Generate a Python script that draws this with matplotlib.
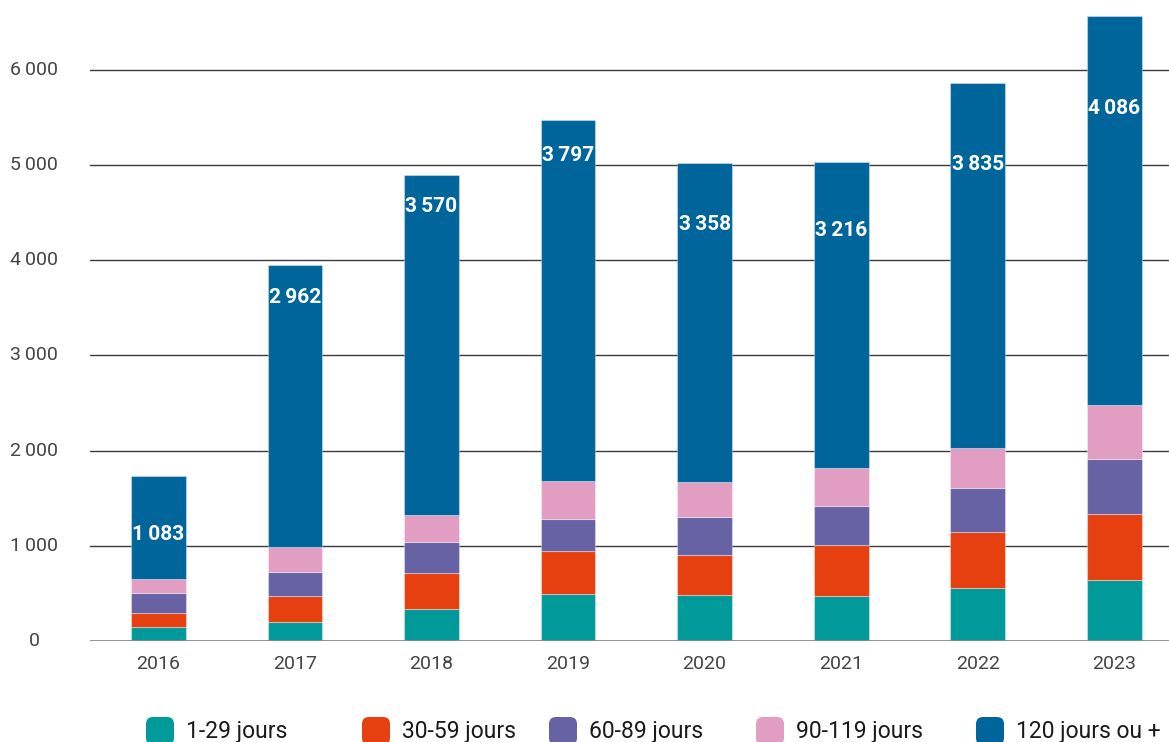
import matplotlib
matplotlib.use("Agg")
import matplotlib.pyplot as plt
from matplotlib.patches import FancyBboxPatch
import numpy as np

plt.rcParams['font.family'] = ['Roboto', 'DejaVu Sans']

years = ["2016", "2017", "2018", "2019", "2020", "2021", "2022", "2023"]
series_names = ["1-29 jours", "30-59 jours", "60-89 jours", "90-119 jours", "120 jours ou +"]
d_1_29 = [144, 204, 336, 499, 486, 476, 559, 646]
d_30_59 = [147, 266, 382, 442, 421, 530, 588, 690]
d_60_89 = [213, 255, 325, 345, 396, 409, 458, 578]
d_90_119 = [147, 266, 281, 392, 365, 400, 428, 564]
d_120_plus = [1083, 2962, 3570, 3797, 3358, 3216, 3835, 4086]
# vertical placement of the value labels inside the top segment
label_y = [1122, 3610, 4566, 5105, 4380, 4314, 5007, 5596]
y_ticks = [0, 1000, 2000, 3000, 4000, 5000, 6000]

colors = ["#009a9a", "#e64011", "#6762a4", "#e29ec2", "#00659b"]
series = [d_1_29, d_30_59, d_60_89, d_90_119, d_120_plus]

W, H = 1169, 742
fig = plt.figure(figsize=(W / 100, H / 100), dpi=100)
ax = fig.add_axes([90 / W, (H - 641) / H, 1 - 90 / W, 641 / H])

x = np.arange(len(years))
bottom = np.zeros(len(years))
for vals, col in zip(series, colors):
    ax.bar(x, vals, width=0.4, bottom=bottom, color=col,
           edgecolor=(1, 1, 1, 0.35), linewidth=0.8, zorder=3)
    bottom += np.array(vals)

def fmt(v):
    return f"{v:,}".replace(",", "\u2009")

for xi, v, ly in zip(x, d_120_plus, label_y):
    ax.text(xi, ly, fmt(v), ha="center", va="center", color="white",
            fontsize=15, fontweight="bold", zorder=4)

ax.set_xlim(-0.5, 7.4)
ax.set_ylim(0, 6735)

for t in y_ticks[1:]:
    ax.axhline(t, color="#3a3a3a", linewidth=1.0, zorder=1)
ax.axhline(0, color="#8a8a8a", linewidth=2.0, zorder=4)

for s in ax.spines.values():
    s.set_visible(False)
ax.set_xticks(x)
ax.set_xticklabels(years, fontsize=14, color="#444444")
ax.tick_params(axis="x", length=0, pad=10)
ax.set_yticks([])

# y-axis labels centred in the left margin
for t in y_ticks:
    ax.text(34 / W, ax.transData.transform((0, t))[1] / H, fmt(t) if t else "0",
            transform=fig.transFigure, ha="center", va="center",
            fontsize=14, color="#444444")

# legend along the bottom edge
box_x = [146, 362, 549, 756, 976]
for bx, name, col in zip(box_x, series_names, colors):
    patch = FancyBboxPatch((bx / W, (H - 745) / H), 28 / W, 28 / H,
                           boxstyle="round,pad=0,rounding_size=0.006",
                           transform=fig.transFigure, facecolor=col,
                           edgecolor="none", mutation_aspect=W / H)
    fig.add_artist(patch)
    fig.text((bx + 40) / W, (H - 738) / H, name, ha="left", va="baseline",
             fontsize=16.5, color="#1a1a1a")

fig.savefig("out.png", dpi=100)
